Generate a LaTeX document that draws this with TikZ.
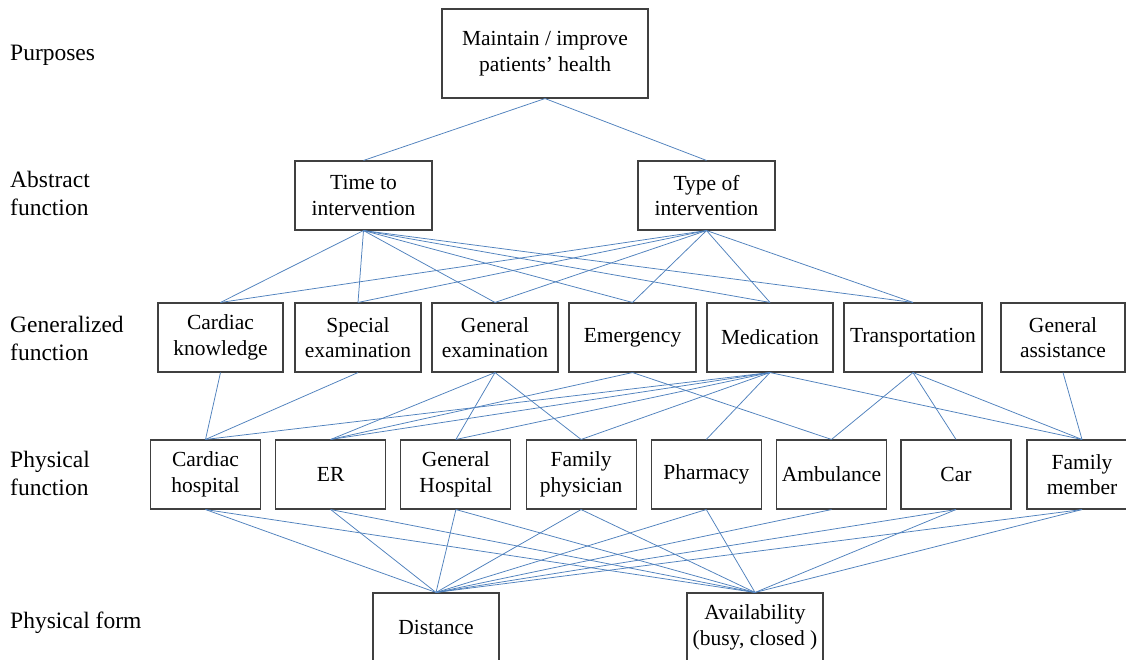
\documentclass[tikz,border=0pt]{standalone}
\usepackage{fontspec}
\setmainfont{Liberation Serif}
\definecolor{linkblue}{RGB}{79,129,189}
\definecolor{boxgrey}{RGB}{64,64,64}
\begin{document}
\begin{tikzpicture}[x=1pt,y=-1pt,
  box/.style={draw=boxgrey, line width=1.1pt, inner sep=0pt, align=center,
    minimum height=69pt, font=\fontsize{21.5}{25.5}\selectfont},
  level/.style={anchor=base west, inner sep=0pt, align=left,
    font=\fontsize{23.5}{28}\selectfont},
  link/.style={draw=linkblue, line width=0.75pt}]
\fill[white] (0,0) rectangle (1126,660);
\useasboundingbox (0,0) rectangle (1126,660);

% level names (base anchor sits on the last line)
\node[level] (lp)  at (10,61)  {Purposes};
\node[level] (la)  at (10,216) {Abstract\\function};
\node[level] (lg)  at (10,360) {Generalized\\function};
\node[level] (lf)  at (10,495) {Physical\\function};
\node[level] (lfm) at (10,628) {Physical form};

% purpose
\node[box, minimum width=206pt, minimum height=89pt] (pur) at (545,53.5) {Maintain / improve\\patients’ health};

% abstract functions
\node[box, minimum width=137pt] (time) at (363.5,195.5) {Time to\\intervention};
\node[box, minimum width=137pt] (type) at (706.5,195.5) {Type of\\intervention};

% generalized functions
\node[box, minimum width=125pt] (ck) at (220.5,337.5) {Cardiac\\knowledge};
\node[box, minimum width=126pt] (se) at (358,337.5) {Special\\examination};
\node[box, minimum width=126pt] (ge) at (495,337.5) {General\\examination};
\node[box, minimum width=127pt] (em) at (632.5,337.5) {Emergency};
\node[box, minimum width=126pt] (me) at (770,337.5) {Medication};
\node[box, minimum width=138pt] (tr) at (913,337.5) {Transportation};
\node[box, minimum width=124pt] (ga) at (1063,337.5) {General\\assistance};

% physical functions
\node[box, minimum width=110pt] (ch)  at (205.5,474.5) {Cardiac\\hospital};
\node[box, minimum width=110pt] (er)  at (330.7,474.5) {ER};
\node[box, minimum width=110pt] (gh)  at (455.9,474.5) {General\\Hospital};
\node[box, minimum width=110pt] (fp)  at (581.1,474.5) {Family\\physician};
\node[box, minimum width=110pt] (ph)  at (706.3,474.5) {Pharmacy};
\node[box, minimum width=110pt] (am)  at (831.5,474.5) {Ambulance};
\node[box, minimum width=110pt] (car) at (956.0,474.5) {Car};
\node[box, minimum width=110pt] (fm)  at (1082,474.5) {Family\\member};

% physical form
\node[box, minimum width=126pt] (dist)  at (436,627.5) {Distance};
\node[box, minimum width=136pt] (avail) at (755,627.5) {Availability\\(busy, closed )};

% purpose -> abstract function
\draw[link] (pur.south) -- (time.north);
\draw[link] (pur.south) -- (type.north);

% abstract -> generalized function
\foreach \g in {ck,se,ge,em,me,tr} {
  \draw[link] (time.south) -- (\g.north);
  \draw[link] (type.south) -- (\g.north);
}

% generalized -> physical function
\draw[link] (ck.south) -- (ch.north);
\draw[link] (se.south) -- (ch.north);
\foreach \p in {er,gh,fp} \draw[link] (ge.south) -- (\p.north);
\foreach \p in {er,am} \draw[link] (em.south) -- (\p.north);
\foreach \p in {ch,er,gh,fp,ph,fm} \draw[link] (me.south) -- (\p.north);
\foreach \p in {am,car,fm} \draw[link] (tr.south) -- (\p.north);
\draw[link] (ga.south) -- (fm.north);

% physical function -> physical form
\foreach \p in {ch,er,gh,fp,ph,am,car,fm} \draw[link] (\p.south) -- (dist.north);
\foreach \p in {ch,er,gh,fp,ph,car,fm} \draw[link] (\p.south) -- (avail.north);
\end{tikzpicture}
\end{document}
